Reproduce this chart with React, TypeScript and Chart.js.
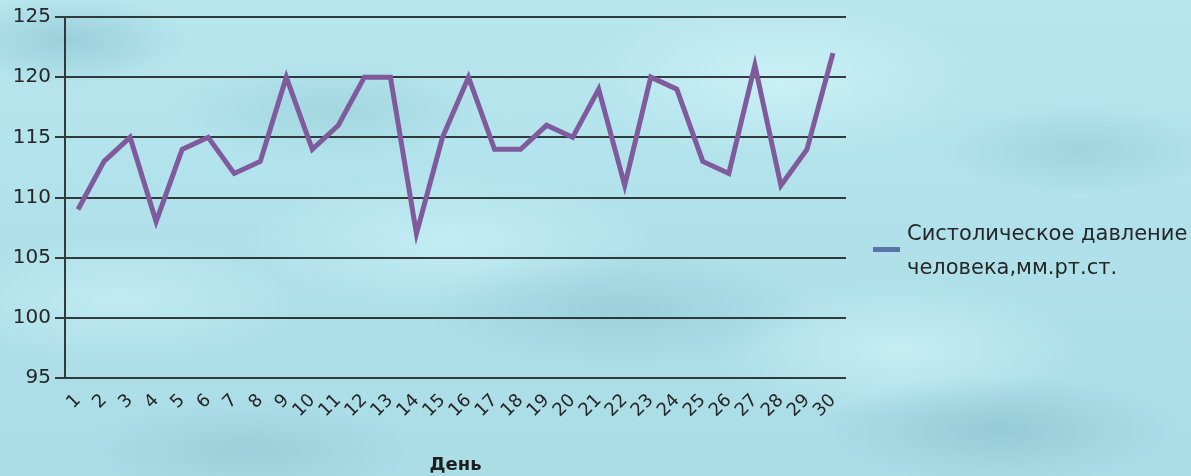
import React, { useEffect, useRef } from "react";
import { Chart, registerables } from "chart.js";

Chart.register(...registerables);

const days: string[] = [
  "1", "2", "3", "4", "5", "6", "7", "8", "9", "10",
  "11", "12", "13", "14", "15", "16", "17", "18", "19", "20",
  "21", "22", "23", "24", "25", "26", "27", "28", "29", "30",
];
const pressure: number[] = [
  109, 113, 115, 108, 114, 115, 112, 113, 120, 114,
  116, 120, 120, 107, 115, 120, 114, 114, 116, 115,
  119, 111, 120, 119, 113, 112, 121, 111, 114, 122,
];
const seriesLabel = "Систолическое давление человека,мм.рт.ст.";
const legendLines: string[] = ["Систолическое давление", "человека,мм.рт.ст."];
const xTitle = "День";
const yMin = 95;
const yMax = 125;
const yStep = 5;

const FONT = "'DejaVu Sans', 'Open Sans', sans-serif";

const legendPlugin = {
  id: "sideLegend",
  afterDraw(chart: any) {
    const ctx = chart.ctx;
    ctx.save();
    ctx.fillStyle = "#5b74a8";
    ctx.fillRect(873, 247, 27, 5);
    ctx.fillStyle = "#262626";
    ctx.font = `21px ${FONT}`;
    ctx.textBaseline = "middle";
    ctx.textAlign = "left";
    ctx.fillText(legendLines[0], 907, 235);
    ctx.fillText(legendLines[1], 907, 269);
    ctx.restore();
  },
};

const bg = [
  "radial-gradient(ellipse 120px 45px at 70px 40px, rgba(120,180,195,0.45), transparent)",
  "radial-gradient(ellipse 160px 50px at 330px 110px, rgba(130,190,200,0.35), transparent)",
  "radial-gradient(ellipse 200px 60px at 620px 310px, rgba(125,185,198,0.4), transparent)",
  "radial-gradient(ellipse 180px 55px at 1000px 430px, rgba(120,180,195,0.45), transparent)",
  "radial-gradient(ellipse 140px 45px at 1080px 150px, rgba(130,190,200,0.4), transparent)",
  "radial-gradient(ellipse 170px 50px at 250px 450px, rgba(120,180,195,0.35), transparent)",
  "radial-gradient(ellipse 200px 80px at 780px 80px, rgba(215,248,252,0.6), transparent)",
  "radial-gradient(ellipse 200px 70px at 450px 240px, rgba(210,246,250,0.55), transparent)",
  "radial-gradient(ellipse 180px 60px at 120px 300px, rgba(210,246,250,0.5), transparent)",
  "radial-gradient(ellipse 180px 70px at 900px 350px, rgba(215,248,252,0.55), transparent)",
  "linear-gradient(180deg, #b8e6ee 0%, #b0e1ea 50%, #abdde7 100%)",
].join(", ");

export default function App() {
  const ref = useRef<HTMLCanvasElement | null>(null);

  useEffect(() => {
    if (!ref.current) return;
    const chart = new Chart(ref.current, {
      type: "line",
      data: {
        labels: days,
        datasets: [
          {
            label: seriesLabel,
            data: pressure,
            borderColor: "#7f5b9d",
            borderWidth: 5,
            pointRadius: 0,
            tension: 0,
            fill: false,
          },
        ],
      },
      options: {
        responsive: false,
        animation: false,
        layout: { padding: { top: 17, right: 345, left: 0, bottom: 0 } },
        plugins: {
          legend: { display: false },
          tooltip: { enabled: false },
        },
        scales: {
          x: {
            offset: true,
            grid: { display: false, drawTicks: false },
            border: { display: false },
            ticks: {
              color: "#262626",
              font: { size: 18, family: FONT },
              minRotation: 45,
              maxRotation: 45,
              autoSkip: false,
              padding: 12,
            },
            title: {
              display: true,
              text: xTitle,
              color: "#1e1e1e",
              font: { size: 18, weight: "bold", family: FONT },
              padding: { top: 4, bottom: 0 },
            },
            afterFit(scale: any) {
              scale.height = 98;
            },
          },
          y: {
            min: yMin,
            max: yMax,
            ticks: {
              stepSize: yStep,
              color: "#262626",
              font: { size: 20, family: FONT },
              padding: 4,
            },
            grid: {
              color: "rgba(35,40,40,0.9)",
              lineWidth: 2,
              tickLength: 10,
            },
            border: { display: true, color: "rgba(35,40,40,0.9)", width: 2 },
            afterFit(scale: any) {
              scale.width = 65;
            },
          },
        },
      },
      plugins: [legendPlugin],
    } as any);
    return () => chart.destroy();
  }, []);

  return (
    <div
      style={{
        position: "absolute",
        left: 0,
        top: 0,
        width: 1191,
        height: 476,
        background: bg,
      }}
    >
      <canvas ref={ref} width={1191} height={476} style={{ display: "block" }} />
    </div>
  );
}
